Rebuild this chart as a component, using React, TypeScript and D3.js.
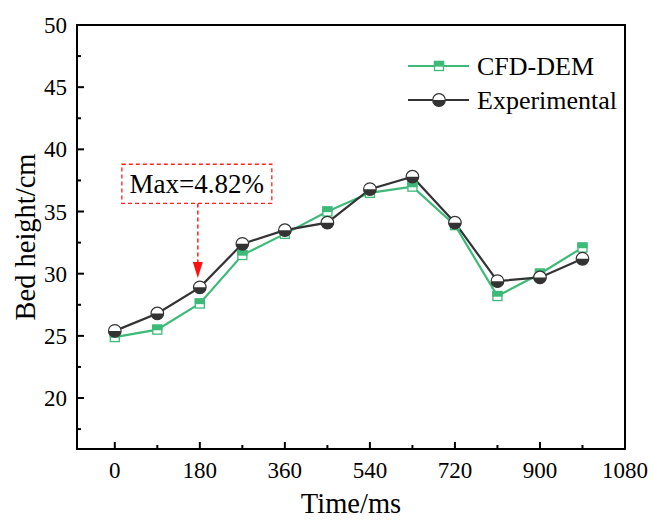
import React from "react";
import { scaleLinear, line, range } from "d3";

// data
const times = [0, 90, 180, 270, 360, 450, 540, 630, 720, 810, 900, 990];
const cfdDem = [24.9, 25.5, 27.6, 31.5, 33.2, 35.0, 36.5, 37.0, 33.9, 28.2, 30.0, 32.1];
const experimental = [25.4, 26.8, 28.9, 32.4, 33.5, 34.1, 36.8, 37.8, 34.1, 29.4, 29.7, 31.2];
const xTicks = [0, 180, 360, 540, 720, 900, 1080];
const yTicks = [20, 25, 30, 35, 40, 45, 50];
const seriesNames = ["CFD-DEM", "Experimental"];

const W = 653;
const H = 521;
const m = { left: 77, right: 28, top: 25, bottom: 72 };
const green = "#3dba78";
const dark = "#333333";
const font = "'Liberation Serif', 'Times New Roman', serif";

const x = scaleLinear().domain([-80, 1080]).range([m.left, W - m.right]);
const y = scaleLinear().domain([15.9, 50]).range([H - m.bottom, m.top]);

const SquareMark = ({ cx, cy }: { cx: number; cy: number }) => {
  const s = 9;
  return (
    <g>
      <rect x={cx - s / 2} y={cy - s / 2} width={s} height={s} fill="#fff" stroke={green} strokeWidth={1.3} />
      <rect x={cx - s / 2} y={cy - s / 2} width={s} height={s / 2} fill={green} stroke={green} strokeWidth={1.3} />
    </g>
  );
};

const CircleMark = ({ cx, cy }: { cx: number; cy: number }) => {
  const r = 6.3;
  return (
    <g>
      <circle cx={cx} cy={cy} r={r} fill="#fff" stroke={dark} strokeWidth={1.2} />
      <path d={`M${cx - r},${cy} A${r},${r} 0 0 0 ${cx + r},${cy} Z`} fill={dark} />
    </g>
  );
};

export default function App() {
  const lineGen = line<number>()
    .x((_, i) => x(times[i]))
    .y((d) => y(d));

  const x0 = x.range()[0];
  const x1 = x.range()[1];
  const y0 = y.range()[0];
  const y1 = y.range()[1];

  const xMinor = range(90, 1080, 180);
  const yMinor = range(17.5, 50, 5);

  // annotation anchored at t=180
  const ax = x(180) - 2;
  const tipY = y(29.65);
  const headH = 16;
  const boxTop = y(38.8);
  const boxBot = y(35.65);
  const boxL = x(180) - 78;
  const boxR = x(180) + 72;

  return (
    <svg width={W} height={H} style={{ position: "absolute", left: 0, top: 0, background: "#fff" }} fontFamily={font}>
      {/* series lines */}
      <path d={lineGen(cfdDem) || ""} fill="none" stroke={green} strokeWidth={2.2} />
      <path d={lineGen(experimental) || ""} fill="none" stroke={dark} strokeWidth={2.2} />
      {cfdDem.map((v, i) => (
        <SquareMark key={"s" + i} cx={x(times[i])} cy={y(v)} />
      ))}
      {experimental.map((v, i) => (
        <CircleMark key={"c" + i} cx={x(times[i])} cy={y(v)} />
      ))}

      {/* frame */}
      <rect x={x0} y={y1} width={x1 - x0} height={y0 - y1} fill="none" stroke="#000" strokeWidth={2} />

      {/* x ticks */}
      {xTicks.map((t) => (
        <g key={"xt" + t}>
          <line x1={x(t)} x2={x(t)} y1={y0} y2={y0 - 7} stroke="#000" strokeWidth={2} />
          <text x={x(t)} y={y0 + 29} textAnchor="middle" fontSize={23}>
            {t}
          </text>
        </g>
      ))}
      {xMinor.map((t) => (
        <line key={"xm" + t} x1={x(t)} x2={x(t)} y1={y0} y2={y0 - 4} stroke="#000" strokeWidth={2} />
      ))}

      {/* y ticks */}
      {yTicks.map((t) => (
        <g key={"yt" + t}>
          <line x1={x0} x2={x0 + 7} y1={y(t)} y2={y(t)} stroke="#000" strokeWidth={2} />
          <text x={x0 - 10} y={y(t) + 8} textAnchor="end" fontSize={23}>
            {t}
          </text>
        </g>
      ))}
      {yMinor.map((t) => (
        <line key={"ym" + t} x1={x0} x2={x0 + 4} y1={y(t)} y2={y(t)} stroke="#000" strokeWidth={2} />
      ))}

      {/* axis titles */}
      <text x={(x0 + x1) / 2} y={H - 8} textAnchor="middle" fontSize={28.5}>
        Time/ms
      </text>
      <text transform={`translate(35,${(y0 + y1) / 2}) rotate(-90)`} textAnchor="middle" fontSize={28.5}>
        Bed height/cm
      </text>

      {/* annotation */}
      <rect x={boxL} y={boxTop} width={boxR - boxL} height={boxBot - boxTop} fill="none" stroke="#ff2020" strokeWidth={1.3} strokeDasharray="4,3" />
      <text x={(boxL + boxR) / 2} y={boxBot - 10} textAnchor="middle" fontSize={27}>
        Max=4.82%
      </text>
      <line x1={ax} x2={ax} y1={boxBot} y2={tipY - headH + 1} stroke="#ff2020" strokeWidth={1.5} strokeDasharray="4,3" />
      <path d={`M${ax - 5},${tipY - headH} L${ax + 5},${tipY - headH} L${ax},${tipY} Z`} fill="#ff1010" />

      {/* legend */}
      {seriesNames.map((name, i) => {
        const ly = 66 + i * 34;
        return (
          <g key={name}>
            <line x1={408} x2={469} y1={ly} y2={ly} stroke={i === 0 ? green : dark} strokeWidth={2.2} />
            {i === 0 ? <SquareMark cx={439} cy={ly} /> : <CircleMark cx={439} cy={ly} />}
            <text x={477} y={ly + 9} fontSize={26}>
              {name}
            </text>
          </g>
        );
      })}
    </svg>
  );
}
